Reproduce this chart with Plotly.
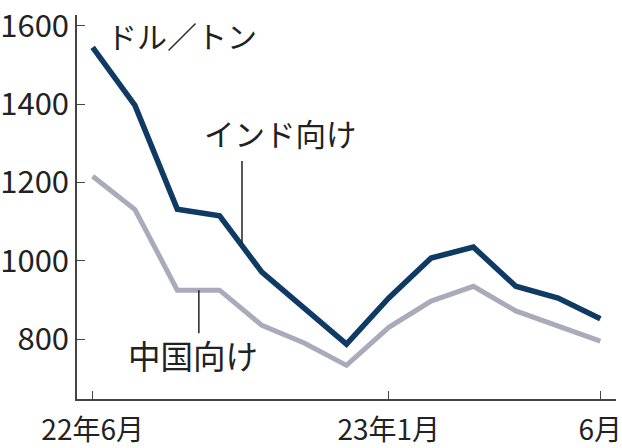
import plotly.graph_objects as go

# Monthly export prices, USD per tonne (Jun 2022 - Jun 2023)
months = list(range(13))
india = [1545, 1397, 1132, 1115, 971, 877, 787, 905, 1007, 1035, 935, 905, 852]
china = [1216, 1131, 925, 925, 835, 790, 733, 830, 897, 935, 872, 835, 795]

x_tickvals = [0, 7, 12]
x_ticktext = ["22年6月", "23年1月", "6月"]
y_tickvals = [800, 1000, 1200, 1400, 1600]

NUM_FONT = "Liberation Sans Narrow, Noto Sans CJK JP, sans-serif"
JP_FONT = "Noto Sans CJK JP, sans-serif"

fig = go.Figure()
fig.add_trace(go.Scatter(x=months, y=china, mode="lines",
                         line=dict(color="#aaaabb", width=5),
                         hoverinfo="skip", showlegend=False))
fig.add_trace(go.Scatter(x=months, y=india, mode="lines",
                         line=dict(color="#0e3a64", width=5.5),
                         hoverinfo="skip", showlegend=False))

# Series labels with leader lines
fig.add_annotation(x=2.12, y=1577, text="ドル／トン", showarrow=False,
                   font=dict(family=JP_FONT, size=30, color="#222"))
fig.add_annotation(x=4.44, y=1326, text="インド向け", showarrow=False,
                   font=dict(family=JP_FONT, size=30.5, color="#222"))
fig.add_annotation(x=2.37, y=760, text="中国向け", showarrow=False,
                   font=dict(family=JP_FONT, size=32.5, color="#222"))
fig.add_shape(type="line", x0=3.53, x1=3.53, y0=1255, y1=1045,
              line=dict(color="#222", width=1.5))
fig.add_shape(type="line", x0=2.51, x1=2.51, y0=925, y1=815,
              line=dict(color="#222", width=1.5))

fig.update_layout(
    width=622, height=448,
    margin=dict(l=74, r=0, t=15, b=43),
    paper_bgcolor="white", plot_bgcolor="white",
)
fig.update_xaxes(range=[-0.37, 12.37], tickvals=x_tickvals, ticktext=x_ticktext,
                 ticks="inside", ticklen=8, tickwidth=1.2, tickcolor="#444",
                 showline=True, linecolor="#444", linewidth=1.5,
                 showgrid=False, zeroline=False,
                 ticklabeloverflow="allow", ticklabelstandoff=6,
                 tickfont=dict(family=NUM_FONT, size=28, color="#222"))
fig.update_yaxes(range=[647, 1628], tickvals=y_tickvals,
                 ticks="inside", ticklen=8, tickwidth=1.2, tickcolor="#444",
                 showline=True, linecolor="#444", linewidth=1.5,
                 showgrid=False, zeroline=False,
                 tickfont=dict(family=NUM_FONT, size=31, color="#222"))

fig.write_html("out.html")
